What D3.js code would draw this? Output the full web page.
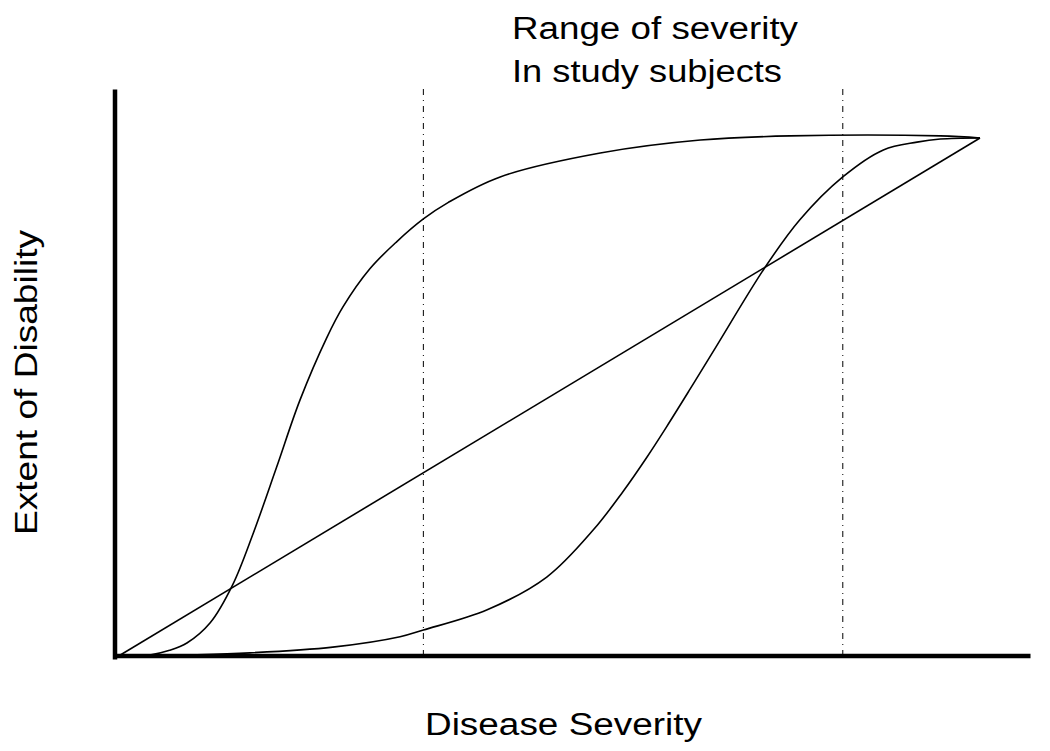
<!DOCTYPE html>
<html>
<head>
<meta charset="utf-8">
<script src="https://cdn.jsdelivr.net/npm/d3@7"></script>
<style>
  body { margin: 0; background: #fff; }
  text { font-family: "Liberation Sans", Arial, sans-serif; fill: #000; }
</style>
</head>
<body>
<svg id="chart" width="1050" height="751"></svg>
<script>
// Curvas de severidade x incapacidade (escala 0-100 nos dois eixos).
const linear = [[0, 0], [100, 100]];

const concave = [
    [0, 0], [3.8, 0.4], [6.1, 1.3], [8.1, 2.7], [10.8, 6.6], [13.4, 13.9],
    [15.8, 23.9], [18.5, 36.6], [21.2, 49.5], [24.3, 61.5], [26.2, 67.5],
    [29.3, 74.8], [32.4, 80.0], [35.5, 84.4], [38.4, 87.6], [44.4, 92.5],
    [56.0, 97.1], [67.6, 99.6], [78.0, 100.4], [95.4, 100.4], [100, 100]
];

const convex = [
    [0, 0], [15.4, 0.8], [25.0, 1.9], [32.8, 3.9], [35.5, 5.2], [42.9, 9.1],
    [49.8, 15.4], [55.2, 24.5], [58.6, 31.8], [61.4, 38.5], [63.7, 44.4],
    [66.4, 51.6], [69.5, 60.0], [75.1, 75.1], [79.1, 84.2], [84.1, 92.5],
    [88.8, 97.7], [92.7, 99.2], [95.4, 99.8], [100, 100]
];

// Faixa de severidade dos sujeitos do estudo.
const studyRange = [35.5, 84.1];

const titleLines = ["Range of severity", "In study subjects"];
const xLabel = "Disease Severity";
const yLabel = "Extent of Disability";

const svg = d3.select("#chart");

const x = d3.scaleLinear().domain([0, 100]).range([117, 980]);
const y = d3.scaleLinear().domain([0, 100]).range([657, 138]);

const xEnd = x.invert(1030);
const yTop = y.invert(89);

// Eixos sem ticks, só a linha grossa.
const xAxisScale = d3.scaleLinear().domain([x.invert(112.5), xEnd]).range([112.5, 1030]);
const yAxisScale = d3.scaleLinear().domain([y.invert(659), yTop]).range([659, 89]);

svg.append("g")
    .attr("transform", "translate(0," + 655.5 + ")")
    .call(d3.axisBottom(xAxisScale).tickValues([]).tickSizeOuter(0))
    .select(".domain")
    .attr("stroke", "#000")
    .attr("stroke-width", 4.5);

svg.append("g")
    .attr("transform", "translate(" + 114.5 + ",0)")
    .call(d3.axisLeft(yAxisScale).tickValues([]).tickSizeOuter(0))
    .select(".domain")
    .attr("stroke", "#000")
    .attr("stroke-width", 4.5);

// Linhas tracejadas da faixa do estudo.
svg.selectAll(".range")
    .data(studyRange)
    .enter()
    .append("line")
    .attr("class", "range")
    .attr("x1", d => x(d))
    .attr("x2", d => x(d))
    .attr("y1", y(yTop))
    .attr("y2", y(0))
    .attr("stroke", "#000")
    .attr("stroke-width", 1)
    .attr("stroke-dasharray", "6,5,1,5");

const line = d3.line()
    .x(d => x(d[0]))
    .y(d => y(d[1]))
    .curve(d3.curveCatmullRom.alpha(0.5));

svg.selectAll(".curve")
    .data([linear, concave, convex])
    .enter()
    .append("path")
    .attr("class", "curve")
    .attr("d", line)
    .attr("fill", "none")
    .attr("stroke", "#000")
    .attr("stroke-width", 1.6);

// Textos.
svg.selectAll(".title")
    .data(titleLines)
    .enter()
    .append("text")
    .attr("class", "title")
    .attr("x", 512)
    .attr("y", (d, i) => 39 + i * 43)
    .attr("font-size", 31)
    .attr("textLength", (d, i) => i === 0 ? 286 : 270)
    .attr("lengthAdjust", "spacingAndGlyphs")
    .text(d => d);

svg.append("text")
    .attr("x", 425)
    .attr("y", 735)
    .attr("font-size", 31)
    .attr("textLength", 277)
    .attr("lengthAdjust", "spacingAndGlyphs")
    .text(xLabel);

svg.append("text")
    .attr("transform", "translate(37,535) rotate(-90)")
    .attr("font-size", 32)
    .attr("textLength", 305)
    .attr("lengthAdjust", "spacingAndGlyphs")
    .text(yLabel);
</script>
</body>
</html>
